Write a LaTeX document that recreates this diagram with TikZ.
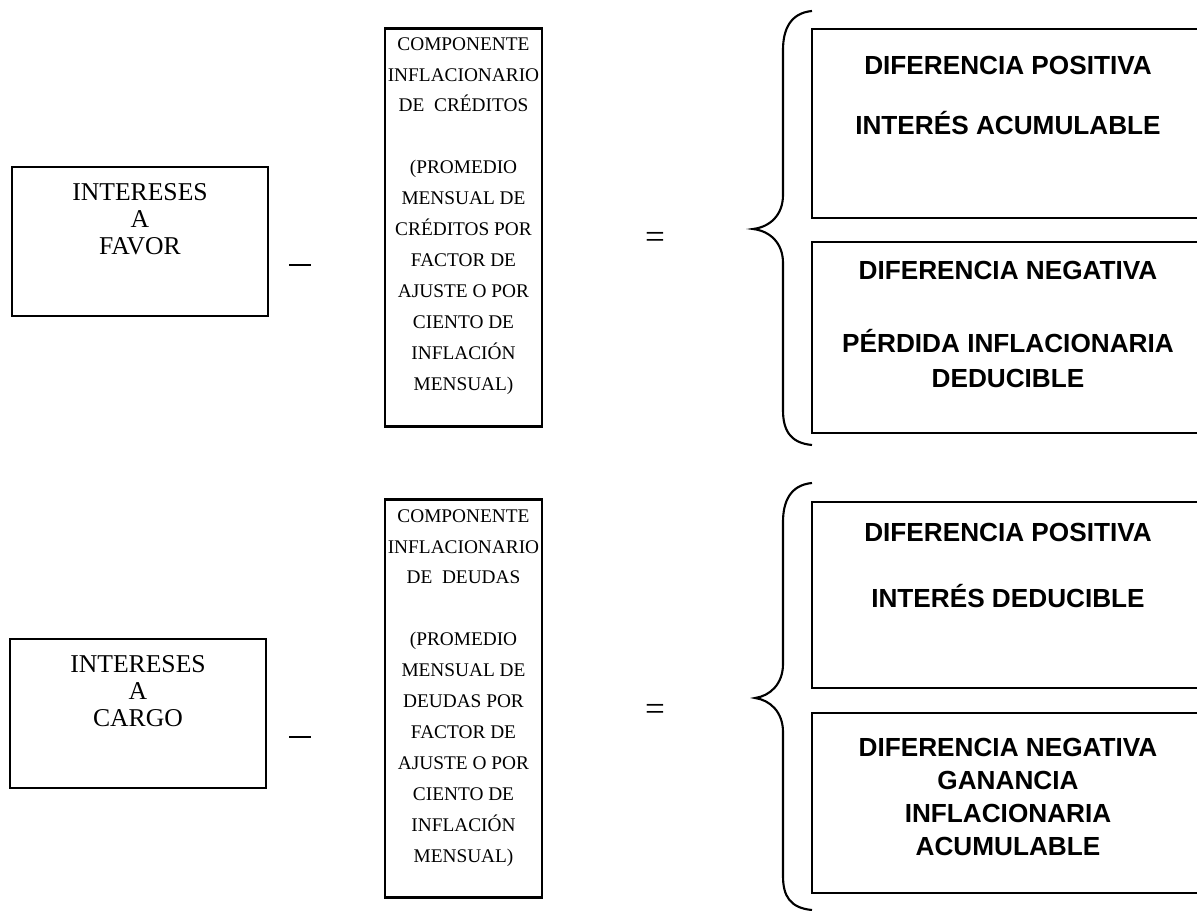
\documentclass[tikz,border=0pt]{standalone}
\usepackage{fontspec}
\setmainfont{Liberation Serif}
\newfontfamily\boldsans{Liberation Sans}
\usetikzlibrary{positioning}
\tikzset{
  lbox/.style = {draw, line width=1.2pt, minimum width=5.12cm, minimum height=2.98cm, inner sep=0pt},
  cbox/.style = {draw, line width=1.2pt, minimum width=3.14cm, minimum height=7.96cm, inner sep=0pt},
  rbox/.style = {draw, line width=1.2pt, minimum width=7.86cm, inner sep=0pt},
  ltxt/.style = {anchor=north, align=center, inner sep=0pt, font=\fontsize{14.6}{15.4}\selectfont},
  ctxt/.style = {anchor=north, align=center, inner sep=0pt, font=\fontsize{11}{17.6}\selectfont},
  rtxt/.style = {anchor=north, align=center, inner sep=0pt, font=\boldsans\bfseries\fontsize{14.9}{18.8}\selectfont},
  sign/.style = {inner sep=0pt, font=\fontsize{20}{20}\selectfont},
  brace/.style = {line width=1.2pt},
}

\begin{document}
\begin{tikzpicture}[x=0.02cm, y=-0.02cm]
  \useasboundingbox (0,0) rectangle (1197,911);
  \clip (0,0) rectangle (1197,911);

  % intereses a favor
  \node[lbox] (fav) at (140,241.5) {};
  \node[ltxt] (favT) at (140,183) {INTERESES\\A\\FAVOR};
  \node[sign] (minA) at (300,265) {\rule{12.5pt}{1.5pt}};
  \node[cbox] (cred) at (463.5,227.5) {};
  \node[ctxt] (credT) at (463.5,37) {COMPONENTE\\INFLACIONARIO\\DE\enspace CRÉDITOS\\[17.6pt]
    (PROMEDIO\\MENSUAL DE\\CRÉDITOS POR\\FACTOR DE\\AJUSTE O POR\\CIENTO DE\\INFLACIÓN\\MENSUAL)};
  \node[sign] (eqA) at (655,240) {=};
  \draw[brace] (812,11) .. controls (790,13) and (783,30) .. (783,50) -- (783,195)
    .. controls (783,215) and (770,227) .. (753,229) .. controls (770,231) and (783,243) .. (783,263)
    -- (783,410) .. controls (783,430) and (790,443) .. (812,445);
  \node[rbox, minimum height=3.78cm] (posA) at (1008.5,123.5) {};
  \node[rtxt] (posAT) at (1008,56) {DIFERENCIA POSITIVA\\[15pt]INTERÉS ACUMULABLE};
  \node[rbox, minimum height=3.82cm] (negA) at (1008.5,337.5) {};
  \node[rtxt] (negAT) at (1008,261) {DIFERENCIA NEGATIVA\\[22.7pt]PÉRDIDA INFLACIONARIA\\[1.2pt]DEDUCIBLE};

  % intereses a cargo
  \node[lbox] (car) at (138,713.5) {};
  \node[ltxt] (carT) at (138,655) {INTERESES\\A\\CARGO};
  \node[sign] (minB) at (300,737) {\rule{12.5pt}{1.5pt}};
  \node[cbox] (deu) at (463.5,698.5) {};
  \node[ctxt] (deuT) at (463.5,509) {COMPONENTE\\INFLACIONARIO\\DE\enspace DEUDAS\\[17.6pt]
    (PROMEDIO\\MENSUAL DE\\DEUDAS POR\\FACTOR DE\\AJUSTE O POR\\CIENTO DE\\INFLACIÓN\\MENSUAL)};
  \node[sign] (eqB) at (655,712) {=};
  \draw[brace] (812,483) .. controls (790,485) and (783,502) .. (783,522) -- (783,664)
    .. controls (783,684) and (770,696) .. (755,698) .. controls (770,700) and (783,712) .. (783,732)
    -- (783,876) .. controls (783,896) and (790,908) .. (812,910);
  \node[rbox, minimum height=3.72cm] (posB) at (1008.5,595) {};
  \node[rtxt] (posBT) at (1008,523) {DIFERENCIA POSITIVA\\[18.8pt]INTERÉS DEDUCIBLE};
  \node[rbox, minimum height=3.6cm] (negB) at (1008.5,803) {};
  \node[rtxt] (negBT) at (1008,738) {DIFERENCIA NEGATIVA\\GANANCIA\\INFLACIONARIA\\ACUMULABLE};
\end{tikzpicture}
\end{document}
